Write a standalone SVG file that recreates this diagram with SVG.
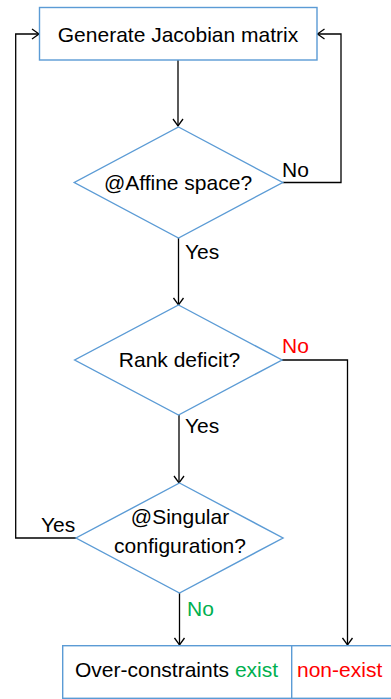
<svg xmlns="http://www.w3.org/2000/svg" width="391" height="699" viewBox="0 0 391 699">
<defs>
<marker id="arr" markerWidth="10" markerHeight="12" refX="8" refY="6" orient="auto" markerUnits="userSpaceOnUse">
<path d="M1,1 L8,6 L1,11" fill="none" stroke="#000" stroke-width="1.3"/>
</marker>
<style>
.node{fill:#fff;stroke:#5B9BD5;stroke-width:1.4}
.t{font-family:"Liberation Sans",Arial,sans-serif;font-size:21px;fill:#000}
.c{text-anchor:middle}
.edge{fill:none;stroke:#000;stroke-width:1.3;marker-end:url(#arr)}
.red{fill:#FF0000}
.green{fill:#00B050}
</style>
</defs>
<rect width="391" height="699" fill="#fff"/>
<g id="connectors">
<path class="edge" d="M178,60 V126"/>
<path class="edge" d="M178.5,238 V305"/>
<path class="edge" d="M282.5,182.5 H341 V34 H317.5"/>
<path class="edge" d="M282,360 H347.5 V645"/>
<path class="edge" d="M179,415 V483"/>
<path class="edge" d="M76,538 H15.7 V34 H39"/>
<path class="edge" d="M179.5,593 V645"/>
</g>
<g id="n-generate">
<rect class="node" x="39.5" y="7.5" width="277.5" height="52.5"/>
<text class="t c" x="178" y="42">Generate Jacobian matrix</text>
</g>
<g id="n-affine">
<polygon class="node" points="178.5,127 282.7,182.5 178.5,238 74.3,182.5"/>
<text class="t c" x="178" y="190">@Affine space?</text>
</g>
<g id="n-rank">
<polygon class="node" points="178.5,305 282,360 178.5,415 74.7,360"/>
<text class="t c" x="179.5" y="367">Rank deficit?</text>
</g>
<g id="n-singular">
<polygon class="node" points="179.5,483 283,538 179.5,593 76,538"/>
<text class="t c" x="180" y="524">@Singular</text>
<text class="t c" x="180" y="553">configuration?</text>
</g>
<g id="n-result">
<rect class="node" x="62.7" y="645.7" width="332" height="52.6"/>
<line x1="291.7" y1="645.7" x2="291.7" y2="698.3" stroke="#5B9BD5" stroke-width="1.4"/>
<text class="t" x="75" y="677">Over-constraints <tspan class="green">exist</tspan></text>
<text class="t red" x="297" y="677">non-exist</text>
</g>
<g id="labels">
<text class="t" x="282" y="177">No</text>
<text class="t" x="185" y="259">Yes</text>
<text class="t red" x="282" y="353">No</text>
<text class="t" x="185" y="433">Yes</text>
<text class="t" x="41" y="532">Yes</text>
<text class="t green" x="187" y="616">No</text>
</g>
</svg>
